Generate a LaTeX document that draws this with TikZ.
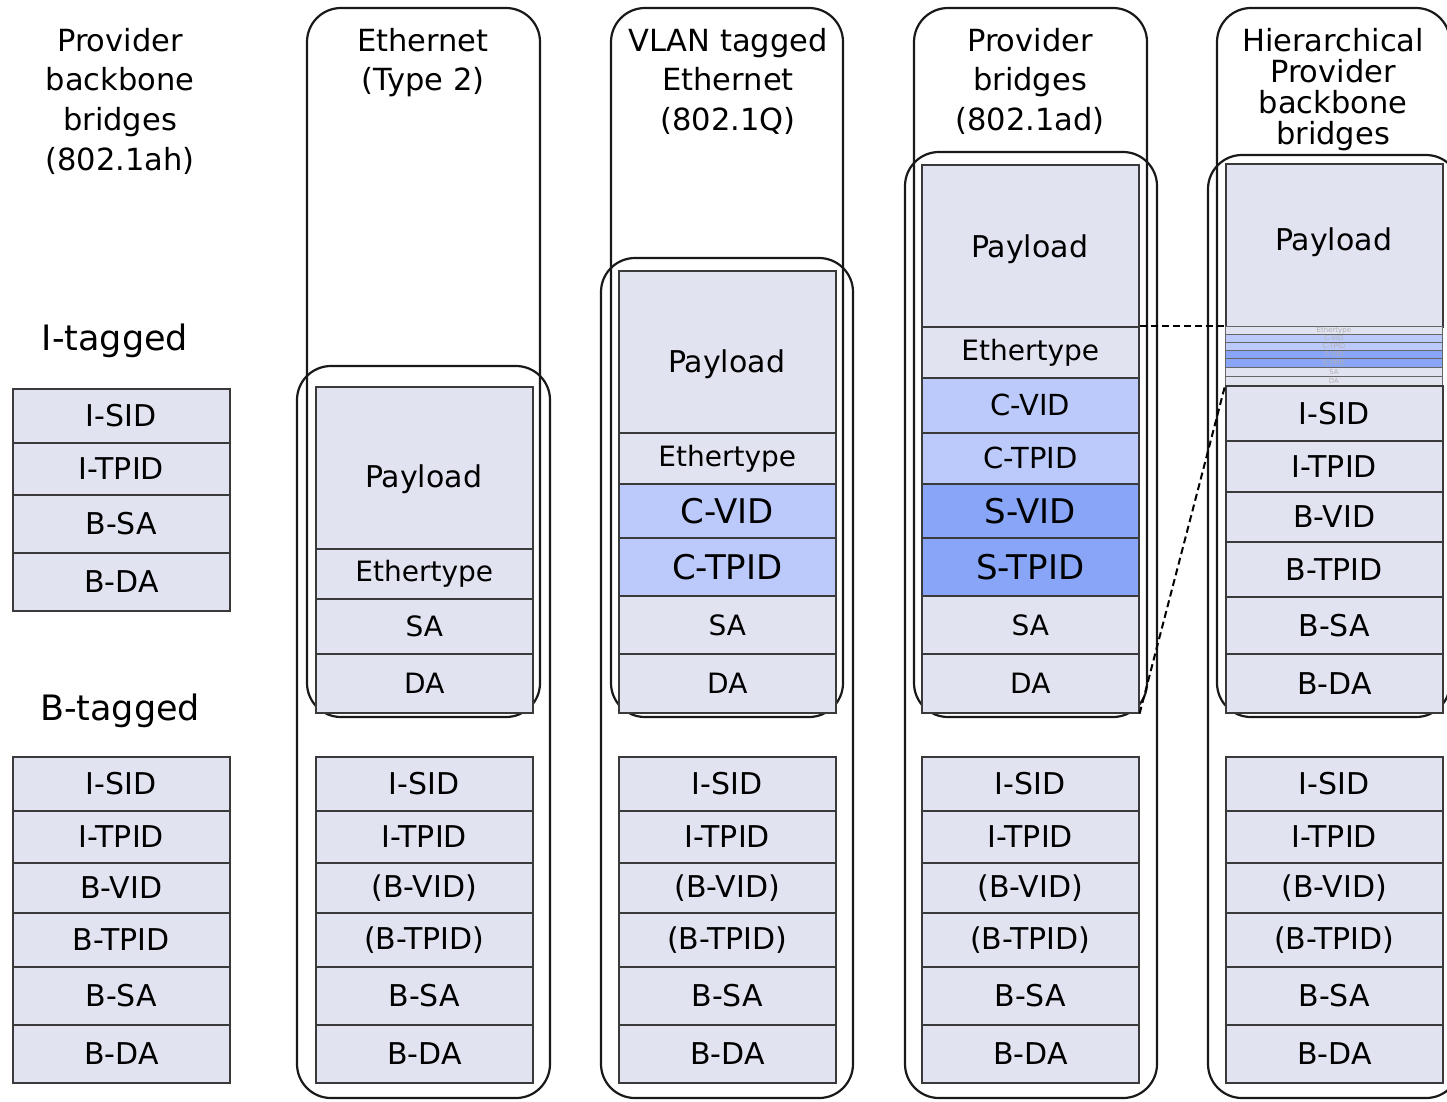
\documentclass[tikz,border=0pt]{standalone}
\usepackage{fontspec}
\setmainfont{DejaVu Sans}
\definecolor{fieldbase}{HTML}{E1E3F1}
\definecolor{ctag}{HTML}{BCCAFB}
\definecolor{stag}{HTML}{88A5F7}
\definecolor{boxline}{HTML}{3A3A3A}
\tikzset{
  field/.style={draw=boxline, line width=1.6pt, anchor=north west,
    minimum width=217pt, inner sep=0pt, text=black},
  stripe/.style={draw=gray!80!black, line width=0.8pt, anchor=north west,
    minimum width=217pt, inner sep=0pt, text=gray!60,
    font=\fontsize{7}{7}\selectfont},
  frame/.style={draw=black!90, line width=2.2pt, rounded corners=34pt},
  title/.style={align=center, inner sep=0pt, anchor=north,
    font=\fontsize{30.5}{39.6}\selectfont},
  biglabel/.style={inner sep=0pt, font=\fontsize{35}{35}\selectfont},
  tag/.style={line width=2pt, dash pattern=on 7pt off 4pt}
}
% field box: name, left x, top y, bottom y, fill, font size, text
\newcommand\fld[7]{%
  \node[field, fill=#5, minimum height={#4-#3},
        font=\fontsize{#6}{#6}\selectfont] (#1) at (#2,#3) {#7};}
% thin sub-field stripe: name, left x, top y, bottom y, fill, text
\newcommand\strp[6]{%
  \node[stripe, fill=#5, minimum height={#4-#3}] (#1) at (#2,#3) {#6};}
\begin{document}
\begin{tikzpicture}[x=1pt,y=-1pt]
\useasboundingbox (0,0) rectangle (1447,1101);
\begin{scope}
\clip (0,0) rectangle (1447,1101);

% column frames
\draw[frame] (307,8) rectangle (540,717);
\draw[frame] (297,366) rectangle (550,1098);
\draw[frame] (611,8) rectangle (843,717);
\draw[frame] (601,258) rectangle (853,1098);
\draw[frame] (914,8) rectangle (1147,717);
\draw[frame] (905,152) rectangle (1157,1098);
\draw[frame] (1217,8) rectangle (1450,717);
\draw[frame] (1208,155) rectangle (1460,1098);

% headings
\node[title] (t0) at (120,28) {Provider\\backbone\\bridges\\(802.1ah)};
\node[title] (t1) at (423,28) {Ethernet\\(Type 2)};
\node[title] (t2) at (728,28) {VLAN tagged\\Ethernet\\(802.1Q)};
\node[title] (t3) at (1030,28) {Provider\\bridges\\(802.1ad)};
\node[title, font=\fontsize{30.5}{31}\selectfont] (t4) at (1333,28)
  {Hierarchical\\Provider\\backbone\\bridges};
\node[biglabel] (itag) at (115,341) {I-tagged};
\node[biglabel] (btag) at (120,711) {B-tagged};

% 802.1ah I-tagged frame
\fld{a1}{12}{388}{442}{fieldbase}{30}{I-SID}
\fld{a2}{12}{442}{494}{fieldbase}{30}{I-TPID}
\fld{a3}{12}{494}{552}{fieldbase}{30}{B-SA}
\fld{a4}{12}{552}{610}{fieldbase}{30}{B-DA}

% 802.1ah B-tagged frame
\fld{ab1}{12}{756}{810}{fieldbase}{30}{I-SID}
\fld{ab2}{12}{810}{862}{fieldbase}{30}{I-TPID}
\fld{ab3}{12}{862}{912}{fieldbase}{30}{B-VID}
\fld{ab4}{12}{912}{966}{fieldbase}{30}{B-TPID}
\fld{ab5}{12}{966}{1024}{fieldbase}{30}{B-SA}
\fld{ab6}{12}{1024}{1082}{fieldbase}{30}{B-DA}

% backbone encapsulation below each customer frame
\foreach \c/\x in {b/315,c/618,d/921,e/1225}{
  \fld{\c b1}{\x}{756}{810}{fieldbase}{30}{I-SID}
  \fld{\c b2}{\x}{810}{862}{fieldbase}{30}{I-TPID}
  \fld{\c b3}{\x}{862}{912}{fieldbase}{30}{(B-VID)}
  \fld{\c b4}{\x}{912}{966}{fieldbase}{30}{(B-TPID)}
  \fld{\c b5}{\x}{966}{1024}{fieldbase}{30}{B-SA}
  \fld{\c b6}{\x}{1024}{1082}{fieldbase}{30}{B-DA}
}

% Ethernet (Type 2)
\fld{b-pl}{315}{386}{548}{fieldbase}{30}{}
\node[inner sep=0pt, font=\fontsize{30}{30}\selectfont] (b-plt) at (423.5,479) {Payload};
\fld{b-eth}{315}{548}{598}{fieldbase}{28}{Ethertype}
\fld{b-sa}{315}{598}{653}{fieldbase}{28}{SA}
\fld{b-da}{315}{653}{712}{fieldbase}{28}{DA}

% 802.1Q
\fld{c-pl}{618}{270}{432}{fieldbase}{30}{}
\node[inner sep=0pt, font=\fontsize{30}{30}\selectfont] (c-plt) at (726.5,364) {Payload};
\fld{c-eth}{618}{432}{483}{fieldbase}{28}{Ethertype}
\fld{c-cvid}{618}{483}{537}{ctag}{34}{C-VID}
\fld{c-ctpid}{618}{537}{595}{ctag}{34}{C-TPID}
\fld{c-sa}{618}{595}{653}{fieldbase}{28}{SA}
\fld{c-da}{618}{653}{712}{fieldbase}{28}{DA}

% 802.1ad
\fld{d-pl}{921}{164}{326}{fieldbase}{30}{}
\node[inner sep=0pt, font=\fontsize{30}{30}\selectfont] (d-plt) at (1029.5,249) {Payload};
\fld{d-eth}{921}{326}{377}{fieldbase}{28}{Ethertype}
\fld{d-cvid}{921}{377}{432}{ctag}{29}{C-VID}
\fld{d-ctpid}{921}{432}{483}{ctag}{29}{C-TPID}
\fld{d-svid}{921}{483}{537}{stag}{34}{S-VID}
\fld{d-stpid}{921}{537}{595}{stag}{34}{S-TPID}
\fld{d-sa}{921}{595}{653}{fieldbase}{28}{SA}
\fld{d-da}{921}{653}{712}{fieldbase}{28}{DA}

% hierarchical: 802.1ad frame squeezed into the I-tag payload
\fld{e-pl}{1225}{163}{326}{fieldbase}{30}{}
\node[inner sep=0pt, font=\fontsize{30}{30}\selectfont] (e-plt) at (1333.5,242) {Payload};
\strp{e-eth}{1225}{326}{334}{fieldbase}{Ethertype}
\strp{e-cvid}{1225}{334}{342}{ctag}{C-VID}
\strp{e-ctpid}{1225}{342}{350}{ctag}{C-TPID}
\strp{e-svid}{1225}{350}{358}{stag}{S-VID}
\strp{e-stpid}{1225}{358}{367}{stag}{S-TPID}
\strp{e-sa}{1225}{367}{376}{fieldbase}{SA}
\strp{e-da}{1225}{376}{385}{fieldbase}{DA}
\fld{e-isid}{1225}{385}{440}{fieldbase}{30}{I-SID}
\fld{e-itpid}{1225}{440}{491}{fieldbase}{30}{I-TPID}
\fld{e-bvid}{1225}{491}{541}{fieldbase}{30}{B-VID}
\fld{e-btpid}{1225}{541}{596}{fieldbase}{30}{B-TPID}
\fld{e-bsa}{1225}{596}{653}{fieldbase}{30}{B-SA}
\fld{e-bda}{1225}{653}{712}{fieldbase}{30}{B-DA}

% mapping of the 802.1ad header into the stripes
\draw[tag] (d-eth.north east) -- (e-eth.north west);
\draw[tag] (d-da.south east) -- (e-da.south west);
\end{scope}
\end{tikzpicture}
\end{document}
